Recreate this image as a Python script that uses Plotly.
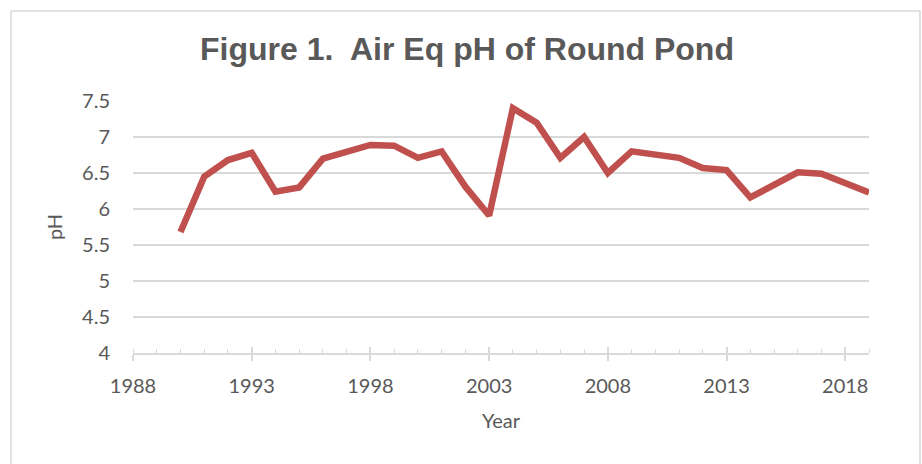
import plotly.graph_objects as go

years = list(range(1990, 2020))
ph = [5.68, 6.45, 6.68, 6.78, 6.24, 6.30, 6.70, 6.80, 6.89, 6.88,
      6.71, 6.80, 6.31, 5.91, 7.40, 7.20, 6.71, 7.00, 6.50, 6.80,
      6.76, 6.71, 6.57, 6.54, 6.16, 6.33, 6.51, 6.49, 6.37, 6.23]
x_ticks = [1988, 1993, 1998, 2003, 2008, 2013, 2018]
y_ticks = [4, 4.5, 5, 5.5, 6, 6.5, 7, 7.5]
y_tick_text = ["4", "4.5", "5", "5.5", "6", "6.5", "7", "7.5"]

W, H = 922, 464
L, R, T, B = 133, 53, 101, 111
pw, ph_px = W - L - R, H - T - B

def px_x(p):
    return (p - L) / pw

def px_y(p):
    return (H - B - p) / ph_px

grey = "#595959"
gridc = "#d9d9d9"
font = "Lato"

fig = go.Figure()
fig.add_trace(go.Scatter(x=years, y=ph, mode="lines",
                         line=dict(color="#C0504D", width=6.5),
                         hoverinfo="x+y", showlegend=False))

fig.update_layout(
    width=W, height=H,
    margin=dict(l=L, r=R, t=T, b=B),
    paper_bgcolor="white", plot_bgcolor="white",
    title=dict(text="<b>Figure 1.  Air Eq pH of Round Pond</b>",
               font=dict(family="Liberation Sans", size=32, color=grey),
               x=467 / W, xanchor="center", xref="container",
               y=1 - 49 / H, yanchor="middle", yref="container"),
    xaxis=dict(range=[1988, 2019], tickvals=x_ticks, ticktext=[str(v) for v in x_ticks],
               showgrid=False, zeroline=False,
               showline=True, linecolor=gridc, linewidth=1.5,
               ticks="outside", ticklen=6, tickcolor=gridc, tickwidth=1.5,
               ticklabelstandoff=8,
               minor=dict(dtick=1, tick0=1988, ticks="inside", ticklen=4,
                          tickcolor=gridc, tickwidth=1, showgrid=False),
               tickfont=dict(family=font, size=20, color=grey),
               title=dict(text="Year", font=dict(family=font, size=20, color=grey),
                          standoff=18)),
    xaxis2=dict(range=[1988, 2019], overlaying="x", side="bottom", anchor="y",
                tickvals=x_ticks, showticklabels=False, showgrid=False,
                zeroline=False, showline=False,
                ticks="inside", ticklen=6, tickcolor=gridc, tickwidth=1.5),
    yaxis=dict(range=[4, 7.5], tickvals=y_ticks, ticktext=y_tick_text,
               showgrid=True, gridcolor=gridc, gridwidth=1.5,
               zeroline=False, showline=False, ticks="",
               ticklabelstandoff=22,
               tickfont=dict(family=font, size=20, color=grey),
               title=dict(text="pH", font=dict(family=font, size=20, color=grey),
                          standoff=14)),
    shapes=[dict(type="rect", xref="paper", yref="paper",
                 x0=px_x(11), x1=px_x(920), y0=px_y(475), y1=px_y(11),
                 line=dict(color=gridc, width=1.5), fillcolor="rgba(0,0,0,0)",
                 layer="below")],
)
fig.add_trace(go.Scatter(x=[1988], y=[None], xaxis="x2", yaxis="y",
                         showlegend=False, hoverinfo="skip"))

fig.write_html("out.html", config={"displayModeBar": False},
               post_script="document.body.style.margin='0';document.body.style.overflow='hidden';")
